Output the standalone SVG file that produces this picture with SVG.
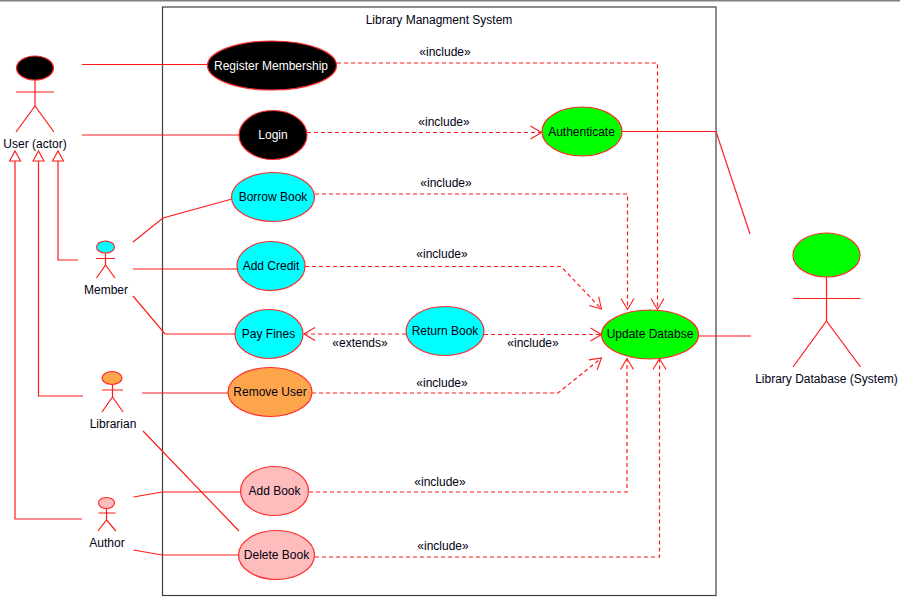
<svg xmlns="http://www.w3.org/2000/svg" width="900" height="600" viewBox="0 0 900 600">
<style>
text{font-family:"Liberation Sans",Arial,sans-serif;font-size:12px;fill:#000012;text-anchor:middle}
.w{fill:#fff}
.l{fill:none;stroke:#ff1a1a;stroke-width:1.2}
.d{fill:none;stroke:#ff1a1a;stroke-width:1.2;stroke-dasharray:4 3;marker-end:url(#open)}
.g{fill:none;stroke:#ff1a1a;stroke-width:1.2;marker-end:url(#tri)}
.e{stroke:#ff2a2a;stroke-width:1.2}
.k{fill:#000}.c{fill:#0ff}.o{fill:#ffa64d}.p{fill:#ffbcbc}.n{fill:#0f0}
</style>
<defs>
<marker id="open" markerUnits="userSpaceOnUse" markerWidth="14" markerHeight="16" refX="12" refY="8" orient="auto"><path d="M1 1.5L12 8L1 14.500" fill="none" stroke="#ff1a1a" stroke-width="1.100"/></marker>
<marker id="tri" markerUnits="userSpaceOnUse" markerWidth="14" markerHeight="14" refX="11" refY="7" orient="auto"><path d="M1 1.500L11 7L1 12.500Z" fill="#fff" stroke="#ff1a1a" stroke-width="1.100"/></marker>
</defs>
<rect width="900" height="600" fill="#fff"/>
<path d="M0 .5H900" stroke="#808080" stroke-width="2" fill="none"/>
<g id="system"><rect x="162.500" y="7" width="553.500" height="588.500" fill="none" stroke="#404040" stroke-width="1.200"/><text x="439" y="24">Library Managment System</text></g>
<g id="connectors">
<path class="l" d="M82 64.500H207M82 135H239M133 242L163 218L232 199M133 269H237M133 296L165 334H235M142 393H228M143 431L239 531M133.500 497L162 492H240M133.500 550L162 555H238M622 131.500H716L750 234M699 336H751"/>
<path class="g" d="M78 260H58V151"/>
<path class="g" d="M83 396H38.500V151"/>
<path class="g" d="M82 519H15V151"/>
<path class="d" d="M337 63H657.500V309.500"/>
<path class="d" d="M307 132.500H541.500"/>
<path class="d" d="M315 194H627.500V309.500"/>
<path class="d" d="M305 266.500H561L601.500 309"/>
<path class="d" d="M484 334.500H601.500"/>
<path class="d" d="M406 334H304"/>
<path class="d" d="M312 393H558L601.500 358"/>
<path class="d" d="M309 492H627V358.500"/>
<path class="d" d="M315 557H659.500V358.500"/>
<text x="445" y="56">«include»</text>
<text x="444" y="126">«include»</text>
<text x="446" y="187">«include»</text>
<text x="442" y="258">«include»</text>
<text x="533" y="347">«include»</text>
<text x="442" y="387">«include»</text>
<text x="440" y="486">«include»</text>
<text x="443" y="550">«include»</text>
<text x="360" y="347">«extends»</text>
</g>
<g id="actor-user"><ellipse class="e k" cx="35" cy="68" rx="18.500" ry="12"/><path class="l" d="M35 80V106M16 92H54M16 132L35 106L54 132"/><text x="35" y="148">User (actor)</text></g>
<g id="actor-member"><ellipse class="e c" cx="105.500" cy="247" rx="9" ry="6"/><path class="l" d="M105.500 253V265M96 258.500H115M96.500 278L105.500 265L115 278"/><text x="106" y="294">Member</text></g>
<g id="actor-librarian"><ellipse class="e o" cx="112" cy="378" rx="10" ry="6.500"/><path class="l" d="M112.500 384.500V397M102 390H123M102 412L112.500 397L123 412"/><text x="113" y="428">Librarian</text></g>
<g id="actor-author"><ellipse class="e p" cx="106.500" cy="503" rx="8" ry="5.500"/><path class="l" d="M106.500 508.500V520M98.500 513H115.500M98 531L106.500 520L116 531"/><text x="107" y="547">Author</text></g>
<g id="actor-database"><ellipse class="e n" cx="826.500" cy="255" rx="33.500" ry="22"/><path class="l" d="M826.500 277V321M793 298.500H860.500M793 367L826.500 321L860.500 367"/><text x="826.500" y="383">Library Database (System)</text></g>
<g id="uc-register"><ellipse class="e k" cx="272" cy="65.500" rx="64.500" ry="24.500"/><text class="w" x="271" y="70">Register Membership</text></g>
<g id="uc-login"><ellipse class="e k" cx="273" cy="135" rx="34" ry="24.500"/><text class="w" x="273" y="139">Login</text></g>
<g id="uc-authenticate"><ellipse class="e n" cx="582" cy="131.500" rx="40" ry="24.500"/><text x="581.500" y="136">Authenticate</text></g>
<g id="uc-borrow"><ellipse class="e c" cx="273" cy="197" rx="41.500" ry="24.500"/><text x="273" y="201">Borrow Book</text></g>
<g id="uc-credit"><ellipse class="e c" cx="271" cy="266" rx="34" ry="24.500"/><text x="271" y="270">Add Credit</text></g>
<g id="uc-fines"><ellipse class="e c" cx="269" cy="334" rx="34" ry="24.500"/><text x="268.500" y="338">Pay Fines</text></g>
<g id="uc-return"><ellipse class="e c" cx="445" cy="331" rx="39" ry="24.500"/><text x="445" y="335">Return Book</text></g>
<g id="uc-remove"><ellipse class="e o" cx="270" cy="392" rx="42" ry="24.500"/><text x="270" y="396">Remove User</text></g>
<g id="uc-update"><ellipse class="e n" cx="650" cy="334.500" rx="48.500" ry="24.500"/><text x="650" y="338">Update Databse</text></g>
<g id="uc-addbook"><ellipse class="e p" cx="274.500" cy="491" rx="34" ry="24.500"/><text x="274.500" y="495">Add Book</text></g>
<g id="uc-delete"><ellipse class="e p" cx="276.500" cy="555" rx="38" ry="24.500"/><text x="276.500" y="559">Delete Book</text></g>
</svg>
